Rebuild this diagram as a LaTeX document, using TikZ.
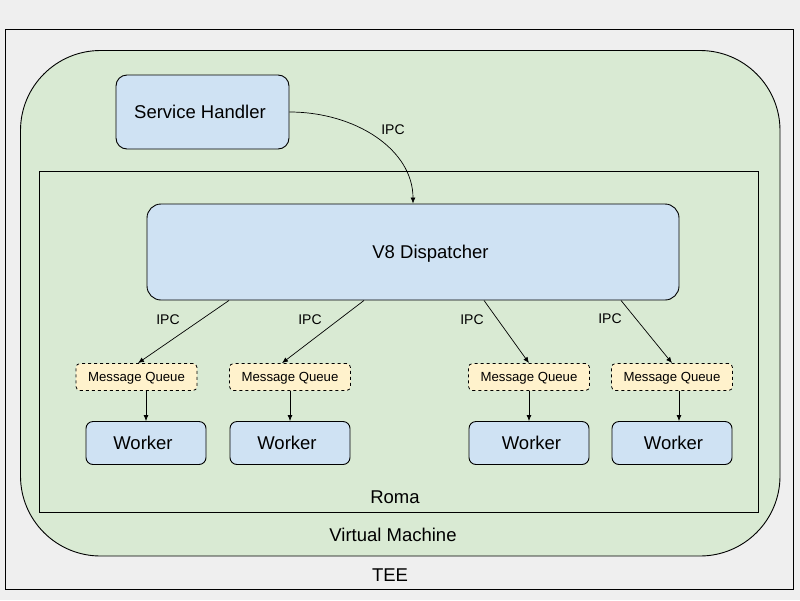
\documentclass[tikz,border=0pt]{standalone}
\usepackage{fontspec}
\setmainfont{Liberation Sans}
\usetikzlibrary{arrows.meta}
\definecolor{bggray}{HTML}{EFEFEF}
\definecolor{vmgreen}{HTML}{D9EAD3}
\definecolor{boxblue}{HTML}{CFE2F3}
\definecolor{mqyellow}{HTML}{FFF2CC}
\tikzset{
  bigtxt/.style={font=\fontsize{18.5}{22}\selectfont},
  ipctxt/.style={font=\fontsize{14}{16}\selectfont},
  bluebox/.style={draw=black, line width=0.9pt, fill=boxblue, inner sep=0pt, text depth=0pt, bigtxt},
  mqbox/.style={draw=black, line width=0.8pt, dashed, fill=mqyellow, rounded corners=4pt,
    minimum width=121pt, minimum height=27pt, inner sep=0pt, text depth=0pt, font=\fontsize{13.2}{15}\selectfont},
  workerbox/.style={bluebox, rounded corners=7pt, minimum width=120pt, minimum height=43pt},
  conn/.style={line width=0.7pt, -{Latex[length=6pt,width=5pt]}},
}
\begin{document}
\begin{tikzpicture}[x=1pt, y=-1pt]
  \useasboundingbox (0,0) rectangle (800,600);
  \fill[bggray] (0,0) rectangle (800,600);
  % TEE
  \draw[line width=0.9pt, fill=bggray] (5,29) rectangle (793,589);
  \node[bigtxt] (tee) at (390,575) {TEE};
  % Virtual Machine
  \draw[line width=0.9pt, fill=vmgreen, rounded corners=80pt] (20.5,50.5) rectangle (780,556);
  \node[bigtxt] (vm) at (393,535) {Virtual Machine};
  % Roma
  \draw[line width=0.9pt, fill=vmgreen] (39.5,171.5) rectangle (758,512);
  \node[bigtxt] (roma) at (395,497) {Roma};
  % Service Handler
  \node[bluebox, rounded corners=11pt, minimum width=173pt, minimum height=74pt] (sh) at (202.5,112) {\hspace*{-5pt}Service Handler};
  % V8 Dispatcher
  \node[bluebox, rounded corners=14pt, minimum width=532pt, minimum height=96pt] (v8) at (413,252) {\hspace*{35pt}V8 Dispatcher};
  % Message queues
  \node[mqbox] (mq1) at (136.5,377) {Message Queue};
  \node[mqbox] (mq2) at (290,377) {Message Queue};
  \node[mqbox] (mq3) at (529,377) {Message Queue};
  \node[mqbox] (mq4) at (672,377) {Message Queue};
  % Workers
  \node[workerbox] (w1) at (146,443) {\hspace*{-6pt}Worker};
  \node[workerbox] (w2) at (290,443) {\hspace*{-6pt}Worker};
  \node[workerbox] (w3) at (529,443) {\hspace*{5pt}Worker};
  \node[workerbox] (w4) at (672,443) {\hspace*{3pt}Worker};
  % Service handler -> dispatcher
  \draw[conn] (sh.east) .. controls +(66,0) and +(0,-54) .. (v8.north);
  \node[ipctxt] (ipc0) at (393,130) {IPC};
  % Dispatcher -> queues
  \draw[conn] ([xshift=-184pt]v8.south) -- ([xshift=1.5pt]mq1.north);
  \draw[conn] ([xshift=-49pt]v8.south) -- ([xshift=-8pt]mq2.north);
  \draw[conn] ([xshift=71pt]v8.south) -- (mq3.north);
  \draw[conn] ([xshift=208pt]v8.south) -- (mq4.north);
  \node[ipctxt] (ipc1) at (168,320) {IPC};
  \node[ipctxt] (ipc2) at (310,320) {IPC};
  \node[ipctxt] (ipc3) at (472,320) {IPC};
  \node[ipctxt] (ipc4) at (610,319) {IPC};
  % Queues -> workers
  \draw[conn] (mq1.south -| w1.north) -- (w1.north);
  \draw[conn] (mq2.south) -- (w2.north);
  \draw[conn] (mq3.south) -- (w3.north);
  \draw[conn] ([xshift=7pt]mq4.south) -- ([xshift=7pt]w4.north);
\end{tikzpicture}
\end{document}
